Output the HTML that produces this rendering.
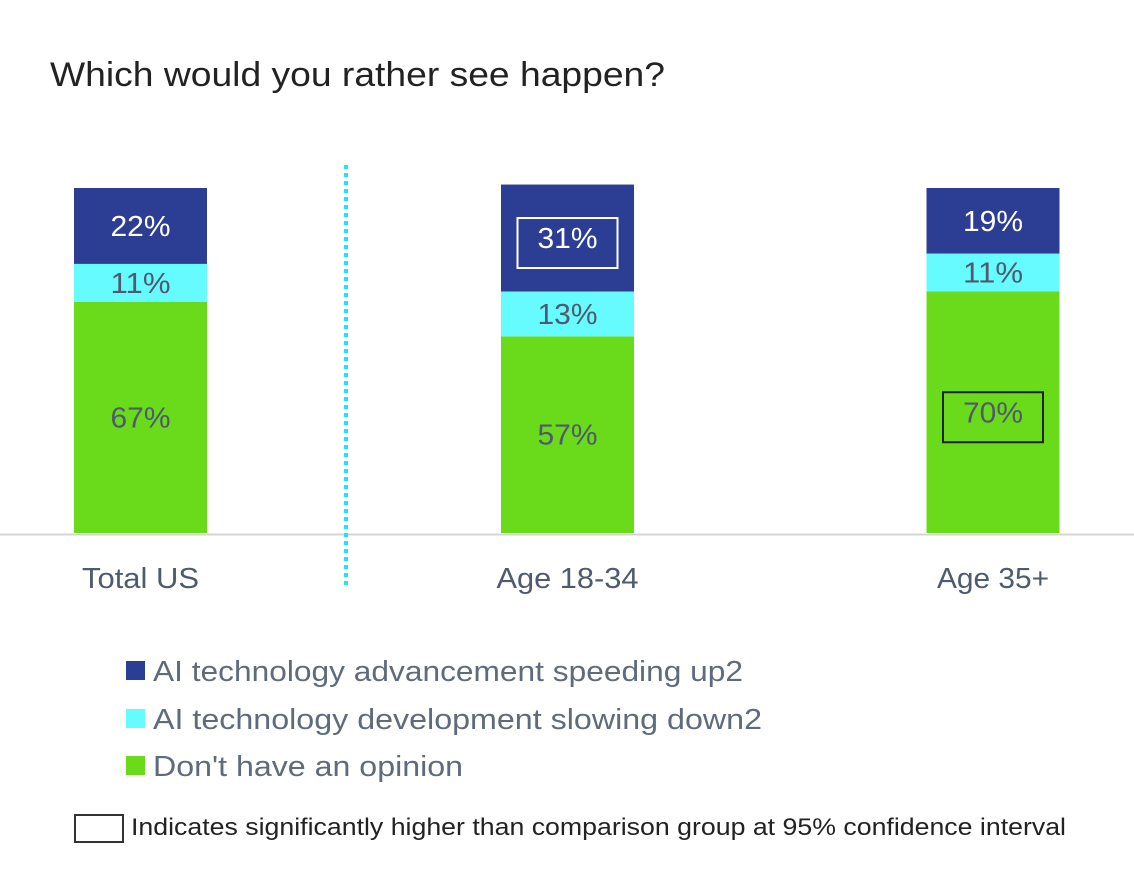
<!DOCTYPE html>
<html><head><meta charset="utf-8"><style>
body{margin:0;background:#fff;font-family:"Liberation Sans",sans-serif;}
svg{display:block}
</style></head><body>
<svg width="1134" height="883">
<text x="50" y="86" font-size="34" fill="#222" textLength="615" lengthAdjust="spacingAndGlyphs">Which would you rather see happen?</text>
<line x1="0" y1="534.5" x2="1134" y2="534.5" stroke="#d4d4d4" stroke-width="2"/>
<line x1="346" y1="165" x2="346" y2="586" stroke="#1ee6f2" stroke-width="4" stroke-dasharray="4,4"/>
<g id="bars"></g>
<g>
<rect x="126" y="661" width="19" height="19" fill="#2c3e94"/>
<text x="153" y="681" font-size="29" fill="#5f6b7c" textLength="590" lengthAdjust="spacingAndGlyphs">AI technology advancement speeding up2</text>
<rect x="126" y="709" width="19" height="19" fill="#66fcff"/>
<text x="153" y="729" font-size="29" fill="#5f6b7c" textLength="609" lengthAdjust="spacingAndGlyphs">AI technology development slowing down2</text>
<rect x="126" y="756" width="19" height="19" fill="#6adb1a"/>
<text x="153" y="776" font-size="29" fill="#5f6b7c" textLength="310" lengthAdjust="spacingAndGlyphs">Don't have an opinion</text>
<rect x="75" y="815" width="48" height="27" fill="none" stroke="#333" stroke-width="2"/>
<text x="131" y="835" font-size="24" fill="#222" textLength="935" lengthAdjust="spacingAndGlyphs">Indicates significantly higher than comparison group at 95% confidence interval</text>
</g>
</svg>
<script>
const categories=["Total US","Age 18-34","Age 35+"];
const speedingUp=[22,31,19];
const slowingDown=[11,13,11];
const noOpinion=[67,57,70];
const sigSpeeding=[false,true,false];
const sigNoOpinion=[false,false,true];
const NS="http://www.w3.org/2000/svg";
const baseY=533, pxPer=3.45, barW=133;
const centers=[140.5,567.5,993];
const labelW=[117,142,112];
function yv(v){return v*pxPer;}
const g=document.getElementById('bars');
function mk(tag,attrs){const e=document.createElementNS(NS,tag);for(const k in attrs)e.setAttribute(k,attrs[k]);g.appendChild(e);return e;}
const series=[
 {vals:noOpinion,color:"#6adb1a",txt:"#505a6e",name:"no-opinion",sig:sigNoOpinion},
 {vals:slowingDown,color:"#66fcff",txt:"#505a6e",name:"slowing-down",sig:null},
 {vals:speedingUp,color:"#2c3e94",txt:"#ffffff",name:"speeding-up",sig:sigSpeeding}
];
categories.forEach((c,i)=>{
 let y=baseY;const x=centers[i]-barW/2;
 series.forEach(s=>{
  const h=yv(s.vals[i]);y-=h;
  const r=mk('rect',{x:x,y:y,width:barW,height:h,fill:s.color});
  
  
  const ty=y+h/2+10;
  const t=mk('text',{x:centers[i],y:ty,'font-size':29,'text-anchor':'middle',fill:s.txt,textLength:60,lengthAdjust:'spacingAndGlyphs'});
  t.textContent=s.vals[i]+'%';
  
  
  if(s.sig&&s.sig[i]){
   const b=mk('rect',{x:centers[i]-50,y:ty-30,width:100,height:50,fill:'none',stroke:s.name==='speeding-up'?'#fff':'#222','stroke-width':2});
   
   
  }
 });
 const l=mk('text',{x:centers[i],y:588,'font-size':29,'text-anchor':'middle',fill:'#505a6e',textLength:labelW[i],lengthAdjust:'spacingAndGlyphs'});
 l.textContent=c;
 
 
});
</script>
</body></html>
